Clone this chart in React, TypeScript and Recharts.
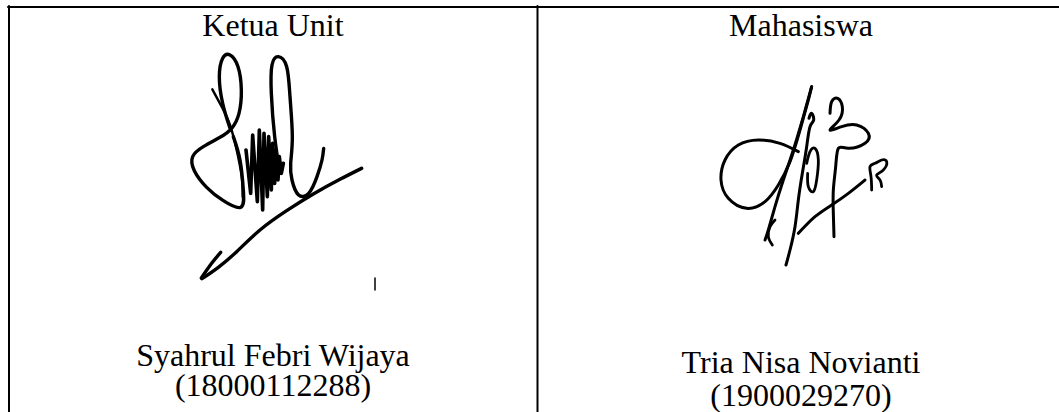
import React from 'react';
import { LineChart, Line, XAxis, YAxis } from 'recharts';

type Pt = [number, number];

// table frame, in page pixels
const frameTop: Pt[] = [[8, 7], [1059, 7]];
const frameLeft: Pt[] = [[9, 6], [9, 412]];
const frameMid: Pt[] = [[537.5, 6], [537.5, 412]];

// left signature (Ketua Unit), traced on a 600 x 750 grid
const ketuaStart: Pt[] = [[97, 118], [125, 170], [150, 225], [170, 300], [185, 380], [188, 440]];
const ketuaLoop: Pt[] = [
  [150, 235], [128, 160], [118, 80], [128, 25], [150, 15], [174, 50], [184, 120], [177, 190],
  [155, 235], [120, 262], [70, 290], [38, 320], [43, 362], [80, 412], [130, 452], [182, 472],
  [190, 420], [180, 330], [160, 260],
];
const ketuaScribble: Pt[] = [
  [198, 300], [212, 430], [218, 255], [232, 455], [238, 240], [248, 480], [252, 250],
  [262, 440], [266, 260], [274, 420], [278, 280], [284, 400], [288, 300], [294, 390],
  [298, 320], [304, 370], [310, 340],
];
const ketuaTall: Pt[] = [
  [300, 370], [284, 260], [274, 130], [276, 45], [295, 20], [320, 50], [330, 140], [337, 260],
  [332, 340], [336, 390], [355, 434], [386, 430], [411, 380], [426, 330], [431, 295],
];
const ketuaUnderline: Pt[] = [
  [545, 355], [480, 388], [400, 432], [320, 482], [240, 540], [170, 605], [115, 652], [66, 686],
];
const ketuaHook: Pt[] = [[122, 607], [95, 640], [64, 684]];
const ketuaTick: Pt[] = [[585, 684], [585, 720]];

// right signature (Mahasiswa), traced on a 540 x 585 grid
const tnOval: Pt[] = [
  [250, 215], [195, 190], [130, 180], [70, 195], [30, 240], [18, 300], [40, 355], [95, 385],
  [150, 365], [190, 315], [225, 245], [255, 150], [280, 60], [290, 20],
];
const tnLeftLeg: Pt[] = [[290, 20], [265, 110], [235, 210], [205, 300], [180, 380], [160, 450], [150, 480]];
const tnHook: Pt[] = [[180, 420], [165, 440], [160, 470], [172, 495]];
const tnRightLeg: Pt[] = [
  [282, 115], [290, 100], [296, 120], [285, 140], [275, 200], [262, 280], [250, 360],
  [240, 440], [225, 510], [213, 555],
];
const tnO: Pt[] = [[275, 250], [285, 215], [300, 205], [310, 240], [305, 300], [295, 335], [280, 320], [278, 280]];
const tnZ: Pt[] = [
  [345, 100], [350, 65], [368, 55], [382, 80], [372, 120], [345, 150], [380, 140], [425, 135],
  [460, 160], [450, 190], [400, 205], [370, 205], [362, 260], [355, 330], [355, 400], [357, 470],
];
const tnSweep: Pt[] = [[250, 460], [300, 410], [350, 375], [400, 340], [450, 300]];
const tnR: Pt[] = [
  [470, 330], [468, 290], [465, 260], [480, 250], [500, 240], [515, 245], [505, 270],
  [485, 285], [495, 300], [500, 320],
];

const toRows = (pts: Pt[]) => pts.map(([x, y]) => ({ x, y }));

type Stroke = { pts: Pt[]; w: number; curve?: 'natural' | 'linear' };

function Sketch({ left, top, width, height, xMax, yMax, strokes }: {
  left: number; top: number; width: number; height: number; xMax: number; yMax: number; strokes: Stroke[];
}) {
  return (
    <div style={{ position: 'absolute', left, top }}>
      <LineChart width={width} height={height} margin={{ top: 0, right: 0, bottom: 0, left: 0 }}>
        <XAxis type="number" dataKey="x" domain={[0, xMax]} hide allowDataOverflow />
        <YAxis type="number" dataKey="y" domain={[0, yMax]} reversed hide allowDataOverflow />
        {strokes.map((s, i) => (
          <Line
            key={i}
            data={toRows(s.pts)}
            dataKey="y"
            type={s.curve ?? 'natural'}
            stroke="#000"
            strokeWidth={s.w}
            strokeLinecap="round"
            strokeLinejoin="round"
            dot={false}
            activeDot={false}
            isAnimationActive={false}
          />
        ))}
      </LineChart>
    </div>
  );
}

const serif = '"Liberation Serif", "Times New Roman", serif';

// with line-height = font size the baseline sits ~27px below the box top
function Caption({ text, cx, baseline }: { text: string; cx: number; baseline: number }) {
  return (
    <div
      style={{
        position: 'absolute',
        left: cx - 250,
        width: 500,
        top: baseline - 27,
        textAlign: 'center',
        fontFamily: serif,
        fontSize: 32,
        lineHeight: '32px',
        color: '#000',
        whiteSpace: 'nowrap',
      }}
    >
      {text}
    </div>
  );
}

export default function App() {
  return (
    <div style={{ position: 'absolute', left: 0, top: 0, width: 1059, height: 412, background: '#fff', overflow: 'hidden' }}>
      <Sketch
        left={0}
        top={0}
        width={1059}
        height={412}
        xMax={1059}
        yMax={412}
        strokes={[
          { pts: frameTop, w: 2, curve: 'linear' },
          { pts: frameLeft, w: 2, curve: 'linear' },
          { pts: frameMid, w: 2, curve: 'linear' },
        ]}
      />
      <Sketch
        left={180}
        top={50}
        width={200}
        height={250}
        xMax={600}
        yMax={750}
        strokes={[
          { pts: ketuaStart, w: 2.4 },
          { pts: ketuaLoop, w: 3.4 },
          { pts: ketuaScribble, w: 3.6, curve: 'linear' },
          { pts: ketuaTall, w: 3.4 },
          { pts: ketuaUnderline, w: 3.4 },
          { pts: ketuaHook, w: 3.4 },
          { pts: ketuaTick, w: 1.5, curve: 'linear' },
        ]}
      />
      <Sketch
        left={715}
        top={80}
        width={180}
        height={195}
        xMax={540}
        yMax={585}
        strokes={[
          { pts: tnOval, w: 3 },
          { pts: tnLeftLeg, w: 3 },
          { pts: tnHook, w: 2.8 },
          { pts: tnRightLeg, w: 3 },
          { pts: tnO, w: 2.8 },
          { pts: tnZ, w: 3 },
          { pts: tnSweep, w: 3 },
          { pts: tnR, w: 2.8 },
        ]}
      />
      <Caption text="Ketua Unit" cx={273} baseline={36} />
      <Caption text="Mahasiswa" cx={801} baseline={36} />
      <Caption text="Syahrul Febri Wijaya" cx={273} baseline={366} />
      <Caption text="(18000112288)" cx={273} baseline={396} />
      <Caption text="Tria Nisa Novianti" cx={801} baseline={373} />
      <Caption text="(1900029270)" cx={801} baseline={406} />
    </div>
  );
}
